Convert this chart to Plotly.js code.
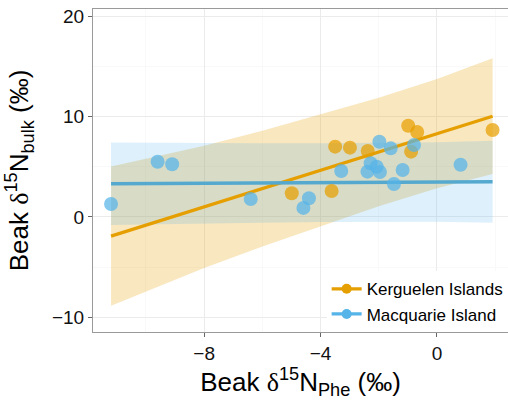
<!DOCTYPE html>
<html>
<head>
<meta charset="utf-8">
<script src="https://cdn.plot.ly/plotly-3.0.1.min.js"></script>
<style>
  html, body { margin: 0; padding: 0; background: #fff; overflow: hidden; }
  #chart { width: 508px; height: 401px; }
</style>
</head>
<body>
<div id="chart"></div>
<script>
// Beak δ15N: bulk tissue vs phenylalanine, by colony
const kergX = [-4.99, -3.62, -3.50, -2.99, -2.38, -0.99, -0.68, -0.89, 1.91];
const kergY = [2.36, 2.59, 7.00, 6.90, 6.57, 9.08, 8.46, 6.50, 8.66];

const macqX = [-11.20, -9.60, -9.10, -6.40, -4.40, -4.59, -3.29, -2.39, -2.28, -2.07,
               -1.96, -1.18, -1.98, -1.59, -0.79, -1.48, 0.81];
const macqY = [1.29, 5.50, 5.24, 1.79, 1.86, 0.90, 4.58, 4.51, 5.34, 5.00,
               4.48, 4.68, 7.49, 6.83, 7.16, 3.28, 5.20];

// model fits with confidence bands, evaluated on a common grid
const fitX = [-11.2, -8, -6, -4, -2, 0, 1.91];
const kergFit = [-1.91, 1.00, 2.83, 4.65, 6.47, 8.29, 10.03];
const kergLow = [-8.84, -5.08, -2.93, -0.91, 1.07, 2.85, 4.27];
const kergUp  = [5.02, 7.08, 8.59, 10.21, 11.87, 13.73, 15.79];
const macqFit = [3.30, 3.35, 3.38, 3.42, 3.45, 3.48, 3.51];
const macqLow = [-0.80, -0.63, -0.57, -0.50, -0.47, -0.47, -0.57];
const macqUp  = [7.40, 7.33, 7.33, 7.34, 7.37, 7.43, 7.59];

const groups = ["Kerguelen Islands", "Macquarie Island"];
const ORANGE = "#E69F00";
const BLUE = "#56B4E9";

function band(x, lo, up, color) {
  return {
    x: x.concat(x.slice().reverse()),
    y: up.concat(lo.slice().reverse()),
    type: "scatter", mode: "lines", fill: "toself",
    fillcolor: color, line: { width: 0 },
    hoverinfo: "skip", showlegend: false
  };
}

const traces = [
  band(fitX, kergLow, kergUp, "rgba(230,159,0,0.25)"),
  band(fitX, macqLow, macqUp, "rgba(86,180,233,0.2)"),
  { x: fitX, y: kergFit, type: "scatter", mode: "lines",
    line: { color: ORANGE, width: 3.2 }, showlegend: false },
  { x: fitX, y: macqFit, type: "scatter", mode: "lines",
    line: { color: "#55A9CF", width: 3.6 }, showlegend: false },
  { x: kergX, y: kergY, type: "scatter", mode: "markers",
    marker: { color: ORANGE, size: 14, opacity: 0.72 }, showlegend: false },
  { x: macqX, y: macqY, type: "scatter", mode: "markers",
    marker: { color: BLUE, size: 14, opacity: 0.72 }, showlegend: false },
  // legend keys
  { x: [null], y: [null], type: "scatter", mode: "lines+markers", name: groups[0],
    line: { color: ORANGE, width: 3.2 }, marker: { color: ORANGE, size: 10 } },
  { x: [null], y: [null], type: "scatter", mode: "lines+markers", name: groups[1],
    line: { color: BLUE, width: 3.2 }, marker: { color: BLUE, size: 10 } }
];

const FONT = "'Liberation Sans', Arial, Helvetica, sans-serif";
const DELTA = "<span style=\"font-family:'Liberation Serif', 'DejaVu Serif', serif\">δ</span>";

const layout = {
  width: 508, height: 401,
  margin: { l: 93, r: 0, t: 9, b: 69, autoexpand: false },
  paper_bgcolor: "#fff", plot_bgcolor: "#fff",
  font: { family: FONT, color: "#000" },
  showlegend: true,
  legend: {
    x: 0.563, xanchor: "left", y: 0.188, yanchor: "top",
    bgcolor: "#fff", borderwidth: 0,
    font: { family: FONT, size: 17, color: "#000" },
    tracegroupgap: 0
  },
  xaxis: {
    range: [-11.82, 2.44], tick0: 0, dtick: 4, automargin: false,
    showgrid: true, gridcolor: "#EBEBEB", gridwidth: 1,
    minor: { dtick: 2, showgrid: true, gridcolor: "#F5F5F5", gridwidth: 0.6 },
    zeroline: false, showline: true, linecolor: "#9A9A9A", linewidth: 1, mirror: true,
    ticks: "outside", ticklen: 4, tickcolor: "#666", tickwidth: 1,
    tickfont: { size: 19, color: "#111" },
    title: { text: "Beak " + DELTA + "<sup>15</sup>N<sub>Phe</sub> (‰)",
             font: { size: 26, color: "#000" }, standoff: 7 }
  },
  yaxis: {
    range: [-11.45, 20.7], tick0: 0, dtick: 10, automargin: false,
    showgrid: true, gridcolor: "#EBEBEB", gridwidth: 1,
    minor: { dtick: 5, showgrid: true, gridcolor: "#F5F5F5", gridwidth: 0.6 },
    zeroline: false, showline: true, linecolor: "#9A9A9A", linewidth: 1, mirror: false,
    ticks: "outside", ticklen: 4, tickcolor: "#666", tickwidth: 1,
    tickfont: { size: 19, color: "#111" },
    title: { text: "Beak " + DELTA + "<sup>15</sup>N<sub>bulk</sub> (‰)",
             font: { size: 26, color: "#000" }, standoff: 15 }
  }
};

Plotly.newPlot("chart", traces, layout, { staticPlot: true, displayModeBar: false });
</script>
</body>
</html>
